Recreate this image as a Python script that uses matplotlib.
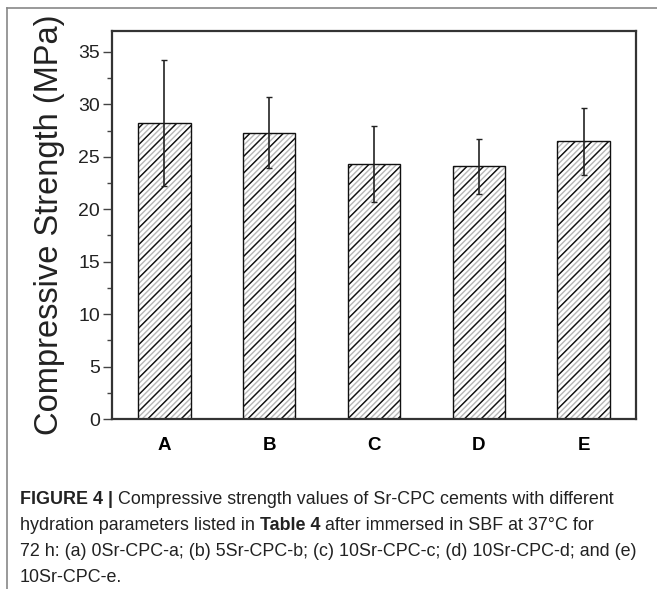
import matplotlib
matplotlib.use("Agg")
import matplotlib.pyplot as plt
from matplotlib.lines import Line2D
from matplotlib.ticker import MultipleLocator

categories = ["A", "B", "C", "D", "E"]
strength = [28.25, 27.3, 24.3, 24.1, 26.5]
errors = [6.0, 3.4, 3.6, 2.6, 3.2]

plt.rcParams['font.family'] = ['Liberation Sans', 'DejaVu Sans']

fig = plt.figure(figsize=(6.57, 5.89), dpi=100)
ax = fig.add_axes([112/657, 1-419/589, (636-112)/657, (419-31)/589])

x = list(range(len(categories)))
ax.bar(x, strength, width=0.5, color='white', edgecolor='#b8b8b8', hatch='//////', linewidth=0)
ax.bar(x, strength, width=0.5, color='none', edgecolor='#111111', hatch='//', linewidth=1.0)
ax.errorbar(x, strength, yerr=errors, fmt='none', ecolor='#222222', elinewidth=1.2, capsize=2.5, capthick=1.0)

ax.set_xlim(-0.5, 4.5)
ax.set_ylim(0, 37)
ax.set_xticks(x)
ax.set_xticklabels(categories, fontsize=13.5, fontweight='bold')
ax.tick_params(axis='x', length=0, pad=13)
ax.yaxis.set_major_locator(MultipleLocator(5))
ax.yaxis.set_minor_locator(MultipleLocator(2.5))
ax.tick_params(axis='y', which='major', length=6.5, width=1, labelsize=14, colors='#444444',
               labelcolor='#222222', pad=2)
ax.tick_params(axis='y', which='minor', length=3.6, width=1, colors='#444444')
for s in ax.spines.values():
    s.set_linewidth(1.6)
    s.set_color('#333333')
ax.set_ylabel("Compressive Strength (MPa)", fontsize=23.5, labelpad=10, color='#222222')

# figure frame (left and top lines)
fig.add_artist(Line2D([7/657, 7/657], [0, 1-8/589], transform=fig.transFigure, color='#888888', lw=1.2))
fig.add_artist(Line2D([7/657, 1], [1-8/589, 1-8/589], transform=fig.transFigure, color='#888888', lw=1.2))

# caption
fig.canvas.draw()
renderer = fig.canvas.get_renderer()
fs = 12.9
x0 = 20/657

def seg_line(y_px, parts):
    xx = x0
    for txt, bold in parts:
        t = fig.text(xx, 1-y_px/589, txt, fontsize=fs,
                     fontweight='bold' if bold else 'normal', va='center', ha='left', color='#222222')
        bb = t.get_window_extent(renderer=renderer)
        xx += bb.width/657

seg_line(500, [("FIGURE 4 |", True), (" Compressive strength values of Sr-CPC cements with different", False)])
seg_line(526, [("hydration parameters listed in ", False), ("Table 4", True), (" after immersed in SBF at 37\u00b0C for", False)])
seg_line(551, [("72 h: (a) 0Sr-CPC-a; (b) 5Sr-CPC-b; (c) 10Sr-CPC-c; (d) 10Sr-CPC-d; and (e)", False)])
seg_line(577, [("10Sr-CPC-e.", False)])

fig.savefig("out.png", dpi=100)
